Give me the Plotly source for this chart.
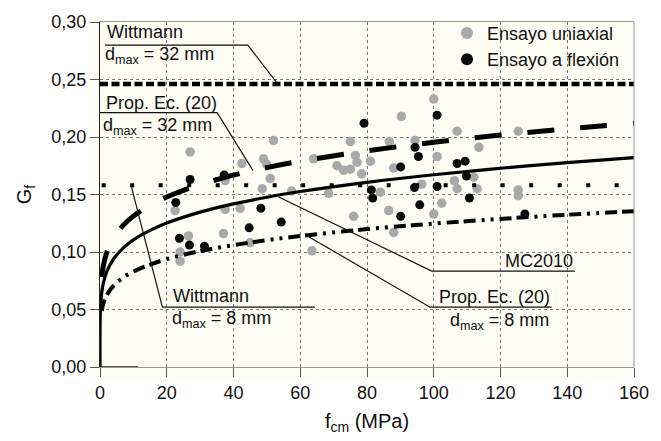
import plotly.graph_objects as go

# ---- data ----
uni_fcm = [22.5, 24, 24, 26.5, 27, 37.5, 37.5, 37, 42, 42.5, 45, 49, 50, 51, 48.6, 52,
           57.4, 63.5, 64, 68.5, 71, 73, 75, 75, 76.5, 77, 78.4, 76, 81, 84, 86.5, 86.7,
           88, 88, 90.3, 94.4, 96.4, 100, 100, 101, 102.4, 106.2, 107, 107, 112, 113,
           113.5, 125.3, 125.3, 125.3]
uni_gf = [0.136, 0.100, 0.092, 0.114, 0.187, 0.162, 0.137, 0.116, 0.138, 0.177, 0.108,
          0.181, 0.176, 0.164, 0.155, 0.197, 0.153, 0.101, 0.181, 0.151, 0.175, 0.171,
          0.172, 0.196, 0.184, 0.178, 0.168, 0.131, 0.179, 0.152, 0.136, 0.196, 0.173,
          0.117, 0.218, 0.197, 0.159, 0.233, 0.133, 0.183, 0.1425, 0.162, 0.155, 0.205,
          0.165, 0.155, 0.191, 0.205, 0.154, 0.149]

flex_fcm = [22.7, 23.8, 27, 26.8, 31.3, 37.2, 44.7, 48.2, 54.3, 79.1, 81.3, 81.7, 90.1,
            90.1, 94.4, 95.4, 94.2, 95.8, 101, 101, 107, 109.4, 109.8, 110.7, 127.3]
flex_gf = [0.143, 0.112, 0.163, 0.106, 0.105, 0.167, 0.121, 0.138, 0.126, 0.212, 0.154,
           0.147, 0.174, 0.131, 0.191, 0.183, 0.156, 0.141, 0.219, 0.157, 0.177, 0.179,
           0.166, 0.147, 0.133]

curve_fcm = [0, 0.05, 0.2, 0.5, 1, 2, 4, 7, 10, 15, 20, 30, 40, 50, 60, 80, 100, 120, 140, 160]
mc2010_gf = [0, 0.0426, 0.0546, 0.0644, 0.073, 0.0827, 0.0937, 0.1036, 0.1105, 0.1188,
             0.1252, 0.1347, 0.1418, 0.1476, 0.1526, 0.1606, 0.1672, 0.1728, 0.1777, 0.182]

prop_fcm = [0.5, 1, 2, 4, 7, 10, 15, 20, 30, 40, 50, 60, 80, 100, 120, 140, 160]
prop32_gf = [0.0782, 0.0881, 0.0993, 0.112, 0.1234, 0.1312, 0.1408, 0.1479, 0.1587,
             0.1668, 0.1734, 0.1789, 0.188, 0.1954, 0.2017, 0.2071, 0.212]
prop8_gf = [0.0488, 0.0552, 0.0624, 0.0705, 0.0779, 0.083, 0.0891, 0.0938, 0.1008,
            0.106, 0.1103, 0.1139, 0.1199, 0.1247, 0.1288, 0.1324, 0.1355]

witt_fcm = [0, 160]
witt32_gf = [0.246, 0.246]
witt8_fcm = [0.5, 160]
witt8_gf = [0.158, 0.158]

base_fcm = [0, 11.4]
base_gf = [0, 0]

x_ticks = [0, 20, 40, 60, 80, 100, 120, 140, 160]
y_ticks = [0.0, 0.05, 0.10, 0.15, 0.20, 0.25, 0.30]
y_labels = ["0,00", "0,05", "0,10", "0,15", "0,20", "0,25", "0,30"]

FONT = "Liberation Sans, Arial, Helvetica, sans-serif"
CREAM = "#fdfdf3"

fig = go.Figure()

fig.add_trace(go.Scatter(x=uni_fcm, y=uni_gf, mode="markers", name="Ensayo uniaxial",
                         marker=dict(color="#a9a9a9", size=9.5, line=dict(width=0))))

line_black = "#000000"
fig.add_trace(go.Scatter(x=base_fcm, y=base_gf, mode="lines", showlegend=False,
                         line=dict(color="#222", width=1.6)))
fig.add_trace(go.Scatter(x=witt_fcm, y=witt32_gf, mode="lines", showlegend=False,
                         line=dict(color=line_black, width=4.5, dash="8px,3.5px")))
fig.add_trace(go.Scatter(x=witt8_fcm, y=witt8_gf, mode="lines", showlegend=False,
                         line=dict(color=line_black, width=4, dash="4px,24.5px")))
fig.add_trace(go.Scatter(x=curve_fcm, y=mc2010_gf, mode="lines", showlegend=False,
                         line=dict(color=line_black, width=3.2, shape="spline")))
fig.add_trace(go.Scatter(x=prop_fcm, y=prop32_gf, mode="lines", showlegend=False,
                         line=dict(color=line_black, width=5, dash="27px,26px", shape="spline")))
fig.add_trace(go.Scatter(x=prop_fcm, y=prop8_gf, mode="lines", showlegend=False,
                         line=dict(color=line_black, width=4, shape="spline",
                                   dash="12px,5px,12px,6px,3px,6px,3px,6px")))

fig.add_trace(go.Scatter(x=flex_fcm, y=flex_gf, mode="markers", name="Ensayo a flexión",
                         marker=dict(color="#0a0a0a", size=9, line=dict(width=0))))

# leader lines for labels (annotation geometry)
leaders = [
    [(1.5, 0.2799), (44.3, 0.2799), (53.0, 0.247)],
    [(0, 0.2212), (35.1, 0.2212), (45.8, 0.171)],
    [(9.3, 0.158), (18.7, 0.052), (64.4, 0.052)],
    [(53.4, 0.148), (99.4, 0.0834), (142.3, 0.0834)],
    [(62.4, 0.1135), (98.9, 0.052), (135.3, 0.052)],
]
shapes = []
for pts in leaders:
    path = "M " + " L ".join(f"{x},{y}" for x, y in pts)
    shapes.append(dict(type="path", xref="x", yref="y", path=path,
                       line=dict(color="#111", width=1.2)))
# cream backdrop slightly larger than the plot area
shapes.append(dict(type="rect", xref="paper", yref="paper", x0=-12/534, x1=1 + 1/534,
                   y0=-10/352, y1=1 + 2/352, fillcolor=CREAM, line=dict(width=0), layer="below"))
# right border
shapes.append(dict(type="line", xref="paper", yref="paper", x0=1, x1=1, y0=0, y1=1,
                   line=dict(color="#999", width=1)))

ann = [
    ("Wittmann", 1.5, 0.2915),
    ("d<sub>max</sub> = 32 mm", 0.9, 0.2705),
    ("Prop. Ec. (20)", 1.2, 0.2295),
    ("d<sub>max</sub> = 32 mm", 0.3, 0.2093),
    ("Wittmann", 21.3, 0.0615),
    ("d<sub>max</sub> = 8 mm", 21.0, 0.041),
    ("MC2010", 120.6, 0.0925),
    ("Prop. Ec. (20)", 100.9, 0.061),
    ("d<sub>max</sub> = 8 mm", 104.3, 0.040),
]
annotations = [dict(text=t, x=x, y=y, xref="x", yref="y", xanchor="left", yanchor="middle",
                    showarrow=False, font=dict(size=18, color="#111", family=FONT))
               for t, x, y in ann]

fig.update_layout(
    width=661, height=441,
    margin=dict(l=100, r=27, t=15, b=74),
    paper_bgcolor="white", plot_bgcolor=CREAM,
    font=dict(family=FONT, size=18, color="#111"),
    shapes=shapes, annotations=annotations,
    legend=dict(x=0.6498, y=1.021, xanchor="left", yanchor="top", bgcolor="rgba(0,0,0,0)",
                font=dict(size=18), itemsizing="constant"),
    xaxis=dict(range=[0, 160], tickvals=x_ticks, ticks="outside", ticklen=9, tickcolor="#555",
               showline=True, linecolor="#999", mirror=True, showgrid=True, gridcolor="#777",
               griddash="dot", gridwidth=1, zeroline=False,
               title=dict(text="f<sub>cm</sub> (MPa)", standoff=12, font=dict(size=20))),
    yaxis=dict(range=[0, 0.30], tickvals=y_ticks, ticktext=y_labels, ticks="outside", ticklen=9,
               tickcolor="#555", showline=True, linecolor="#222", mirror=False, showgrid=True,
               gridcolor="#777", griddash="dot", gridwidth=1, zeroline=False,
               title=dict(text="G<sub>f</sub>", standoff=14, font=dict(size=20))),
)

fig.write_html("out.html")
